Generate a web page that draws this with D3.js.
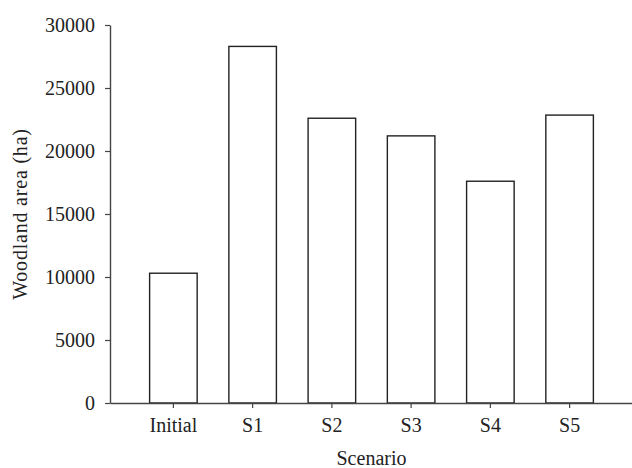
<!DOCTYPE html>
<html>
<head>
<meta charset="utf-8">
<script src="https://cdn.jsdelivr.net/npm/d3@7"></script>
<style>
  body { margin: 0; background: #fff; }
  text { font-family: "Liberation Serif", "DejaVu Serif", serif; fill: #222; }
</style>
</head>
<body>
<main></main>
<script>
const w = 632;
const h = 468;

const scenarios = ["Initial", "S1", "S2", "S3", "S4", "S5"];
const woodland = [10300, 28300, 22600, 21200, 17600, 22850];
const yTicks = [0, 5000, 10000, 15000, 20000, 25000, 30000];

const plotLeft = 110;
const plotRight = 633;
const plotTop = 25;
const plotBottom = 403;

const svg = d3
  .select("main")
  .append("svg")
  .attr("width", w)
  .attr("height", h);

const x = d3
  .scaleBand()
  .domain(scenarios)
  .range([plotLeft, plotRight])
  .paddingInner(0.4)
  .paddingOuter(0.5);

const y = d3.scaleLinear().domain([0, 30000]).range([plotBottom, plotTop]);

svg
  .append("g")
  .selectAll("rect")
  .data(scenarios)
  .join("rect")
  .attr("x", (d) => x(d))
  .attr("y", (d, i) => y(woodland[i]))
  .attr("width", x.bandwidth())
  .attr("height", (d, i) => y(0) - y(woodland[i]))
  .attr("fill", "white")
  .attr("stroke", "#222")
  .attr("stroke-width", 1.4);

const yAxis = svg
  .append("g")
  .attr("transform", `translate(${plotLeft},0)`)
  .call(
    d3
      .axisLeft(y)
      .tickValues(yTicks)
      .tickFormat(d3.format("d"))
      .tickSize(5)
      .tickPadding(10)
      .tickSizeOuter(0)
  );

const xAxis = svg
  .append("g")
  .attr("transform", `translate(0,${plotBottom})`)
  .call(d3.axisBottom(x).tickSize(5).tickPadding(10).tickSizeOuter(0));

[xAxis, yAxis].forEach((g) => {
  g.select(".domain").attr("stroke", "#444").attr("stroke-width", 1.4);
  g.selectAll(".tick line").attr("stroke", "#444").attr("stroke-width", 1.2);
  g.selectAll(".tick text")
    .attr("font-size", 20)
    .attr("font-family", "Liberation Serif")
    .attr("fill", "#222");
});

svg
  .append("text")
  .attr("x", (plotLeft + plotRight) / 2)
  .attr("y", 465)
  .attr("text-anchor", "middle")
  .attr("font-size", 20)
  .text("Scenario");

svg
  .append("text")
  .attr("transform", `translate(27,${(plotTop + plotBottom) / 2}) rotate(-90)`)
  .attr("text-anchor", "middle")
  .attr("font-size", 20)
  .attr("letter-spacing", 0.8)
  .text("Woodland area (ha)");
</script>
</body>
</html>
